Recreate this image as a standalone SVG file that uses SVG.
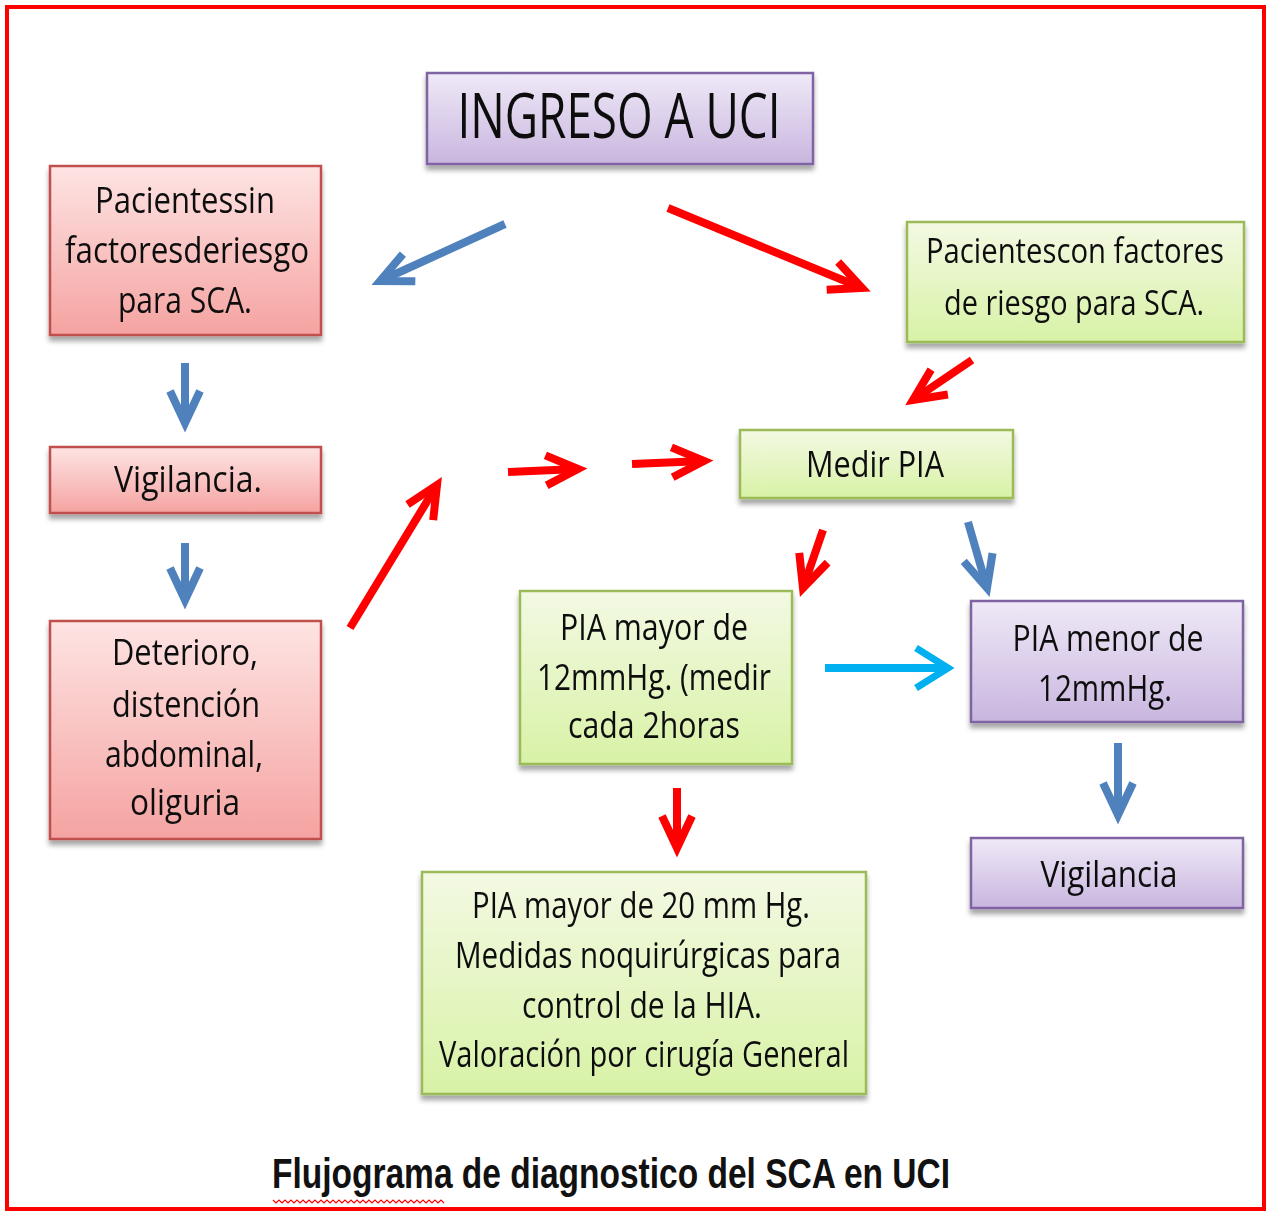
<svg xmlns="http://www.w3.org/2000/svg" width="1268" height="1214" viewBox="0 0 1268 1214">
<style>
.t{font-family:"Open Sans","Liberation Sans",sans-serif;font-size:37px;fill:#111;text-anchor:middle}
.sm{font-size:34px}
.big{font-size:62px}
.cap{font-family:"Liberation Sans",sans-serif;font-size:42px;font-weight:bold;fill:#111}
.red{fill:url(#gRed);stroke:#c0504d;stroke-width:2.5}
.pur{fill:url(#gPur);stroke:#8064a2;stroke-width:2.5}
.grn{fill:url(#gGrn);stroke:#9bbb59;stroke-width:2.5}
.box{filter:url(#sh)}
.ar{fill:none;stroke-width:8}
.ar-r{stroke:#ff0000;marker-end:url(#mR)}
.ar-b{stroke:#4f81bd;marker-end:url(#mB)}
.ar-c{stroke:#00b0f0;marker-end:url(#mC)}
</style>
<defs>
<linearGradient id="gRed" x1="0" y1="0" x2="0" y2="1"><stop offset="0" stop-color="#fde4e3"/><stop offset="1" stop-color="#f5a3a1"/></linearGradient>
<linearGradient id="gPur" x1="0" y1="0" x2="0" y2="1"><stop offset="0" stop-color="#efe9f7"/><stop offset="1" stop-color="#c9b6df"/></linearGradient>
<linearGradient id="gGrn" x1="0" y1="0" x2="0" y2="1"><stop offset="0" stop-color="#f3f9e3"/><stop offset="1" stop-color="#d8f2a6"/></linearGradient>
<filter id="sh" x="-10%" y="-10%" width="120%" height="130%"><feDropShadow dx="0" dy="5" stdDeviation="2.5" flood-color="#000" flood-opacity="0.35"/></filter>
<marker id="mR" markerUnits="userSpaceOnUse" markerWidth="60" markerHeight="60" viewBox="-45 -30 60 60" refX="0" refY="0" orient="auto" overflow="visible"><path d="M-32,-15 L0,0 L-32,15" fill="none" stroke="#ff0000" stroke-width="8"/></marker>
<marker id="mB" markerUnits="userSpaceOnUse" markerWidth="60" markerHeight="60" viewBox="-45 -30 60 60" refX="0" refY="0" orient="auto" overflow="visible"><path d="M-32,-15 L0,0 L-32,15" fill="none" stroke="#4f81bd" stroke-width="8"/></marker>
<marker id="mC" markerUnits="userSpaceOnUse" markerWidth="60" markerHeight="60" viewBox="-45 -30 60 60" refX="0" refY="0" orient="auto" overflow="visible"><path d="M-32,-20 L0,0 L-32,20" fill="none" stroke="#00b0f0" stroke-width="7"/></marker>
</defs>
<rect x="0" y="0" width="1268" height="1214" fill="#fff"/>
<rect x="7" y="7" width="1257" height="1202" fill="none" stroke="#ff0000" stroke-width="4"/>

<g id="connectors">
<path class="ar ar-b" d="M505,224 L380,281"/>
<path class="ar ar-r" d="M668,208 L862,288"/>
<path class="ar ar-r" d="M972,360 L913,400"/>
<path class="ar ar-b" d="M185,363 L185,423"/>
<path class="ar ar-b" d="M185,543 L185,600"/>
<path class="ar ar-r" d="M350,628 L437,485"/>
<path class="ar ar-r" d="M508,472 L578,469"/>
<path class="ar ar-r" d="M632,464 L704,461"/>
<path class="ar ar-r" d="M823,530 L803,588"/>
<path class="ar ar-b" d="M968,522 L987,588"/>
<path class="ar ar-c" d="M825,668 L948,668"/>
<path class="ar ar-b" d="M1118,743 L1118,815"/>
<path class="ar ar-r" d="M677,788 L677,848"/>
</g>

<g id="n-ingreso" class="box"><rect class="pur" x="427" y="73" width="386" height="91"/>
<text class="t big" x="619" y="138" textLength="323" lengthAdjust="spacingAndGlyphs">INGRESO A UCI</text></g>

<g id="n-sin" class="box"><rect class="red" x="50" y="166" width="271" height="169"/>
<text class="t" x="185" y="213" textLength="180" lengthAdjust="spacingAndGlyphs">Pacientessin</text>
<text class="t" x="187" y="263" textLength="244" lengthAdjust="spacingAndGlyphs">factoresderiesgo</text>
<text class="t" x="185" y="313" textLength="134" lengthAdjust="spacingAndGlyphs">para SCA.</text></g>

<g id="n-vig1" class="box"><rect class="red" x="50" y="447" width="271" height="66"/>
<text class="t" x="188" y="492" textLength="148" lengthAdjust="spacingAndGlyphs">Vigilancia.</text></g>

<g id="n-det" class="box"><rect class="red" x="50" y="621" width="271" height="218"/>
<text class="t" x="185" y="665" textLength="146" lengthAdjust="spacingAndGlyphs">Deterioro,</text>
<text class="t" x="186" y="717" textLength="148" lengthAdjust="spacingAndGlyphs">distención</text>
<text class="t" x="184" y="767" textLength="158" lengthAdjust="spacingAndGlyphs">abdominal,</text>
<text class="t" x="185" y="815" textLength="110" lengthAdjust="spacingAndGlyphs">oliguria</text></g>

<g id="n-con" class="box"><rect class="grn" x="907" y="222" width="337" height="120"/>
<text class="t sm" x="1075" y="263" textLength="298" lengthAdjust="spacingAndGlyphs">Pacientescon factores</text>
<text class="t sm" x="1074" y="315" textLength="260" lengthAdjust="spacingAndGlyphs">de riesgo para SCA.</text></g>

<g id="n-medir" class="box"><rect class="grn" x="740" y="430" width="273" height="68"/>
<text class="t" x="875" y="477" textLength="138" lengthAdjust="spacingAndGlyphs">Medir PIA</text></g>

<g id="n-mayor12" class="box"><rect class="grn" x="520" y="591" width="272" height="173"/>
<text class="t" x="654" y="640" textLength="188" lengthAdjust="spacingAndGlyphs">PIA mayor de</text>
<text class="t" x="654" y="690" textLength="234" lengthAdjust="spacingAndGlyphs">12mmHg. (medir</text>
<text class="t" x="654" y="738" textLength="172" lengthAdjust="spacingAndGlyphs">cada 2horas</text></g>

<g id="n-menor12" class="box"><rect class="pur" x="971" y="601" width="272" height="121"/>
<text class="t" x="1108" y="651" textLength="191" lengthAdjust="spacingAndGlyphs">PIA menor de</text>
<text class="t" x="1105" y="701" textLength="134" lengthAdjust="spacingAndGlyphs">12mmHg.</text></g>

<g id="n-vig2" class="box"><rect class="pur" x="971" y="838" width="272" height="70"/>
<text class="t" x="1109" y="887" textLength="137" lengthAdjust="spacingAndGlyphs">Vigilancia</text></g>

<g id="n-mayor20" class="box"><rect class="grn" x="422" y="872" width="444" height="222"/>
<text class="t" x="641" y="918" textLength="338" lengthAdjust="spacingAndGlyphs">PIA mayor de 20 mm Hg.</text>
<text class="t" x="648" y="968" textLength="386" lengthAdjust="spacingAndGlyphs">Medidas noquirúrgicas para</text>
<text class="t" x="642" y="1018" textLength="240" lengthAdjust="spacingAndGlyphs">control de la HIA.</text>
<text class="t" x="644" y="1067" textLength="410" lengthAdjust="spacingAndGlyphs">Valoración por cirugía General</text></g>

<g id="caption">
<text class="cap" x="272" y="1188" textLength="678" lengthAdjust="spacingAndGlyphs">Flujograma de  diagnostico del SCA en UCI</text>
<path d="M273,1200 l3,3 l3,-3 l3,3 l3,-3 l3,3 l3,-3 l3,3 l3,-3 l3,3 l3,-3 l3,3 l3,-3 l3,3 l3,-3 l3,3 l3,-3 l3,3 l3,-3 l3,3 l3,-3 l3,3 l3,-3 l3,3 l3,-3 l3,3 l3,-3 l3,3 l3,-3 l3,3 l3,-3 l3,3 l3,-3 l3,3 l3,-3 l3,3 l3,-3 l3,3 l3,-3 l3,3 l3,-3 l3,3 l3,-3 l3,3 l3,-3 l3,3 l3,-3 l3,3 l3,-3 l3,3 l3,-3 l3,3 l3,-3 l3,3 l3,-3 l3,3 l3,-3 l3,3" fill="none" stroke="#ff0000" stroke-width="1.2"/>
</g>
</svg>
